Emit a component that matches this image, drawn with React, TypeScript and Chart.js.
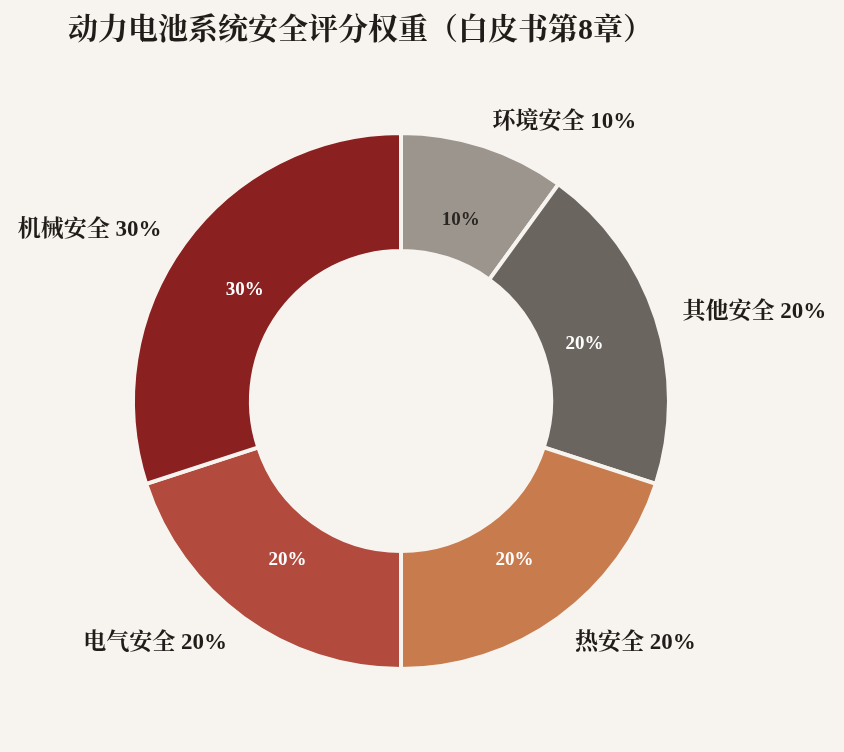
import { useRef, useEffect } from 'react'
import { Chart, registerables } from 'chart.js'

Chart.register(...registerables)

const labels = ['环境安全', '其他安全', '热安全', '电气安全', '机械安全']
const weights = [10, 20, 20, 20, 30]
const colors = ['#9c958e', '#6b6560', '#c87b4d', '#b34a3e', '#8b2020']
const innerTextColors = ['#2a2622', '#ffffff', '#ffffff', '#ffffff', '#ffffff']

const BG = '#f7f4ef'
const FONT = "'Liberation Serif', 'Noto Serif CJK SC', 'Noto Sans CJK SC', serif"
const TITLE = '动力电池系统安全评分权重（白皮书第8章）'

const labelPlugin = {
  id: 'sliceLabels',
  afterDatasetsDraw(chart: Chart) {
    const ctx = chart.ctx
    const meta = chart.getDatasetMeta(0)
    const total = weights.reduce((a, b) => a + b, 0)
    ctx.save()
    meta.data.forEach((el: any, i: number) => {
      const { x, y, startAngle, endAngle, outerRadius, innerRadius } = el.getProps(
        ['x', 'y', 'startAngle', 'endAngle', 'outerRadius', 'innerRadius'],
        true
      )
      const mid = (startAngle + endAngle) / 2
      const pct = Math.round((weights[i] / total) * 100) + '%'
      // inside label
      const rIn = (outerRadius + innerRadius) / 2 - 16
      ctx.font = `bold 19px ${FONT}`
      ctx.fillStyle = innerTextColors[i]
      ctx.textAlign = 'center'
      ctx.textBaseline = 'middle'
      ctx.fillText(pct, x + Math.cos(mid) * rIn, y + Math.sin(mid) * rIn + 3)
      // outside label
      const rOut = outerRadius + 28
      const lx = x + Math.cos(mid) * rOut
      const ly = y + Math.sin(mid) * rOut + 3
      ctx.font = `bold 23px ${FONT}`
      ctx.fillStyle = '#1f1c1a'
      ctx.textAlign = Math.cos(mid) >= 0 ? 'left' : 'right'
      ctx.fillText(`${labels[i]} ${pct}`, lx, ly)
    })
    ctx.restore()
  },
}

const titlePlugin = {
  id: 'leftTitle',
  afterDraw(chart: Chart) {
    const ctx = chart.ctx
    ctx.save()
    ctx.font = `bold 30px ${FONT}`
    ctx.fillStyle = '#1f1c1a'
    ctx.textAlign = 'left'
    ctx.textBaseline = 'middle'
    ctx.fillText(TITLE, 68, 31)
    ctx.restore()
  },
}

function DonutChart() {
  const canvasRef = useRef<HTMLCanvasElement>(null)
  const chartRef = useRef<Chart | null>(null)

  useEffect(() => {
    if (!canvasRef.current) return
    chartRef.current?.destroy()

    chartRef.current = new Chart(canvasRef.current, {
      type: 'doughnut',
      data: {
        labels,
        datasets: [
          {
            data: weights,
            backgroundColor: colors,
            borderColor: BG,
            borderWidth: 4,
          },
        ],
      },
      options: {
        responsive: true,
        maintainAspectRatio: false,
        animation: false,
        cutout: '56%',
        layout: { padding: { left: 131, right: 173, top: 131, bottom: 81 } },
        plugins: {
          legend: { display: false },
          tooltip: { enabled: false },
          title: { display: false },
        },
      },
      plugins: [labelPlugin, titlePlugin],
    })

    return () => {
      chartRef.current?.destroy()
      chartRef.current = null
    }
  }, [])

  return (
    <div style={{ position: 'relative', width: 844, height: 752, background: BG }}>
      <canvas ref={canvasRef} />
    </div>
  )
}

export default function App() {
  useEffect(() => {
    document.body.style.margin = '0'
    document.body.style.background = BG
  }, [])
  return <DonutChart />
}
